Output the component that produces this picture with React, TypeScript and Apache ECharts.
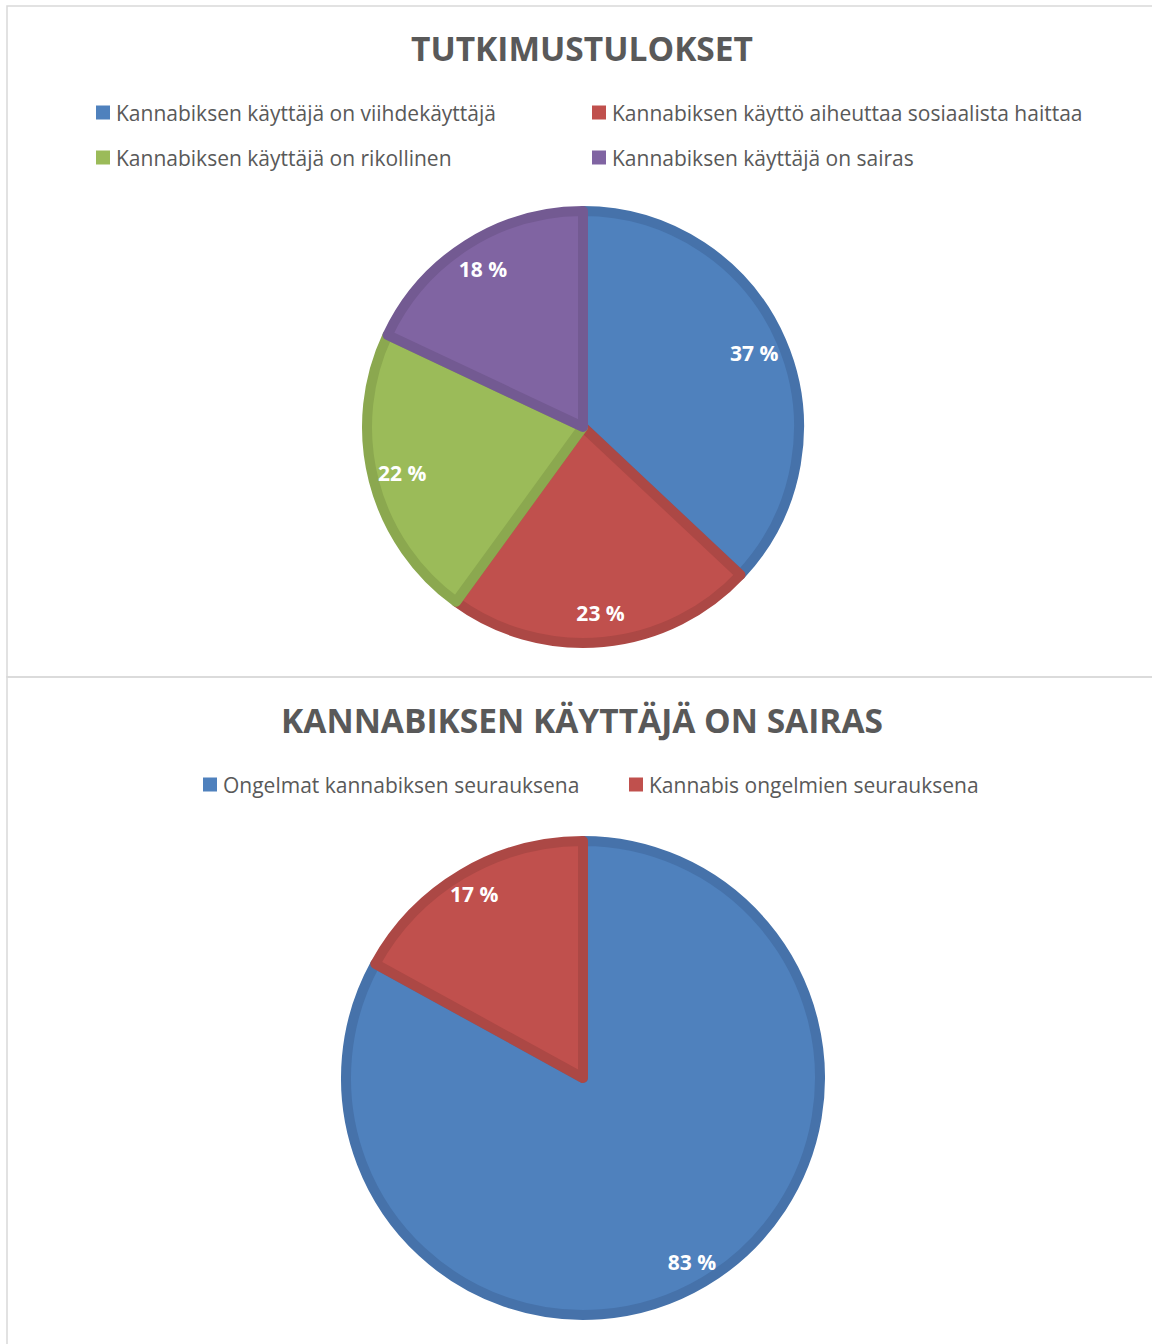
import React, { useEffect, useRef } from "react";
import * as echarts from "echarts";

const topTitle = "TUTKIMUSTULOKSET";
const topNames = [
  "Kannabiksen käyttäjä on viihdekäyttäjä",
  "Kannabiksen käyttö aiheuttaa sosiaalista haittaa",
  "Kannabiksen käyttäjä on rikollinen",
  "Kannabiksen käyttäjä on sairas",
];
const topValues = [37, 23, 22, 18];
const topColors = ["#4F81BD", "#C0504D", "#9BBB59", "#8064A2"];
const topBorders = ["#4672AA", "#AC4845", "#8BA84F", "#735A92"];

const bottomTitle = "KANNABIKSEN KÄYTTÄJÄ ON SAIRAS";
const bottomNames = ["Ongelmat kannabiksen seurauksena", "Kannabis ongelmien seurauksena"];
const bottomValues = [83, 17];
const bottomColors = ["#4F81BD", "#C0504D"];
const bottomBorders = ["#4672AA", "#AC4845"];

const FONT = "Open Sans";
const TEXT = "#595959";

function mk(names: string[], values: number[], colors: string[], borders: string[]) {
  return names.map((n, i) => ({
    name: n,
    value: values[i],
    itemStyle: { color: colors[i], borderColor: borders[i] },
  }));
}

export default function App() {
  const ref = useRef<HTMLDivElement>(null);
  useEffect(() => {
    const chart = echarts.init(ref.current!, null, { renderer: "svg" });
    const topR = 216;
    const botR = 237;
    const labelStyle = {
      show: true,
      position: "inside",
      formatter: "{c} %",
      color: "#fff",
      fontFamily: FONT,
      fontWeight: "bold",
      fontSize: 21,
    };
    const legendBase = {
      orient: "vertical",
      icon: "rect",
      itemWidth: 14,
      itemHeight: 14,
      itemGap: 24,
      selectedMode: false,
      textStyle: { color: TEXT, fontFamily: FONT, fontSize: 21, padding: [0, 0, 0, 1] },
      itemStyle: { borderWidth: 0 },
    };
    chart.setOption({
      animation: false,
      title: [
        {
          text: topTitle,
          left: 577,
          textAlign: "center",
          top: 26,
          textStyle: { color: TEXT, fontFamily: FONT, fontWeight: "bold", fontSize: 33.5 },
        },
        {
          text: bottomTitle,
          left: 577,
          textAlign: "center",
          top: 698,
          textStyle: { color: TEXT, fontFamily: FONT, fontWeight: "bold", fontSize: 33.5 },
        },
      ],
      legend: [
        { ...legendBase, left: 91, top: 97, data: [topNames[0], topNames[2]] },
        { ...legendBase, left: 587, top: 97, data: [topNames[1], topNames[3]] },
        { ...legendBase, left: 198, top: 769, data: [bottomNames[0]] },
        { ...legendBase, left: 624, top: 769, data: [bottomNames[1]] },
      ],
      graphic: [
        {
          type: "rect",
          shape: { x: 7, y: 6, width: 1160, height: 671 },
          style: { fill: "none", stroke: "#D9D9D9", lineWidth: 1.5 },
          silent: true,
          z: -1,
        },
        {
          type: "rect",
          shape: { x: 7, y: 677, width: 1160, height: 700 },
          style: { fill: "none", stroke: "#D9D9D9", lineWidth: 1.5 },
          silent: true,
          z: -1,
        },
      ],
      series: [
        {
          type: "pie",
          center: [583, 427],
          radius: [0, topR],
          startAngle: 90,
          clockwise: true,
          silent: true,
          label: { show: false },
          labelLine: { show: false },
          itemStyle: { borderWidth: 10 },
          data: mk(topNames, topValues, topColors, topBorders),
        },
        {
          type: "pie",
          center: [583, 427],
          radius: [topR * 0.7, topR],
          startAngle: 90,
          clockwise: true,
          silent: true,
          label: labelStyle,
          labelLine: { show: false },
          itemStyle: { color: "transparent", borderWidth: 0 },
          data: topNames.map((n, i) => ({ name: n, value: topValues[i] })),
        },
        {
          type: "pie",
          center: [583, 1078],
          radius: [0, botR],
          startAngle: 90,
          clockwise: true,
          silent: true,
          label: { show: false },
          labelLine: { show: false },
          itemStyle: { borderWidth: 10 },
          data: mk(bottomNames, bottomValues, bottomColors, bottomBorders),
        },
        {
          type: "pie",
          center: [583, 1078],
          radius: [botR * 0.78, botR],
          startAngle: 90,
          clockwise: true,
          silent: true,
          label: labelStyle,
          labelLine: { show: false },
          itemStyle: { color: "transparent", borderWidth: 0 },
          data: bottomNames.map((n, i) => ({ name: n, value: bottomValues[i] })),
        },
      ],
    });
    return () => chart.dispose();
  }, []);
  return (
    <div
      ref={ref}
      style={{ position: "absolute", left: 0, top: 0, width: 1152, height: 1344, background: "#fff" }}
    />
  );
}
